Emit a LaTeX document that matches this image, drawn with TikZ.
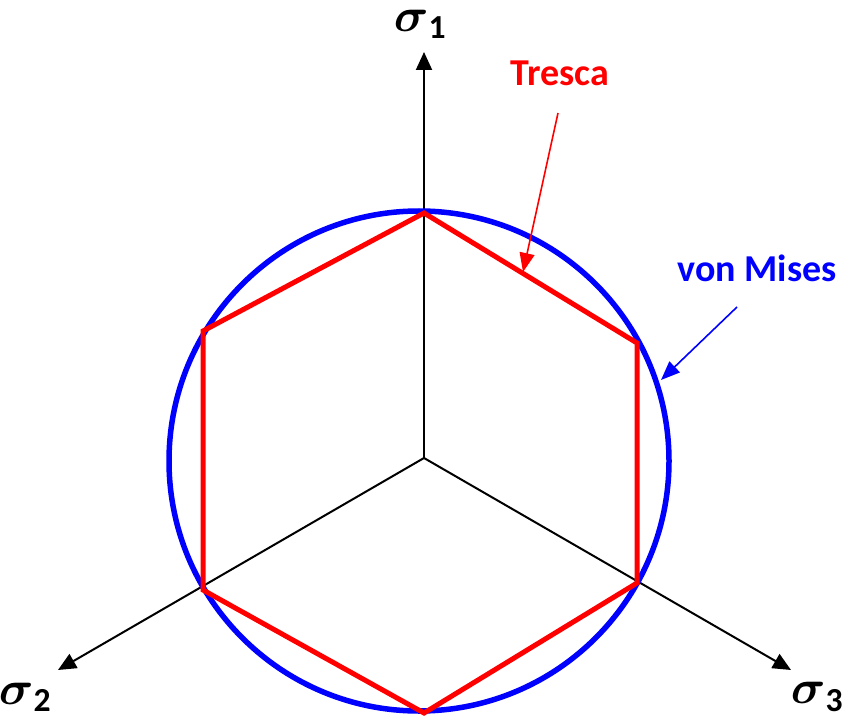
\documentclass[tikz,border=0pt]{standalone}
\usepackage{amsmath, amssymb}
\usepackage{fontspec}
\setmainfont{Carlito}
\usepackage{tikz}
\usetikzlibrary{positioning, calc, arrows.meta}

\tikzset{
  axis/.style={line width=2pt, -{Triangle[length=18pt,width=16pt]}},
  pointer/.style={line width=1.6pt, -{Triangle[length=19pt,width=15pt]}},
  lbl/.style={font=\fontsize{38}{44}\selectfont\bfseries, inner sep=0pt},
  sig/.style={inner sep=0pt},
}
\newcommand{\sig}[1]{\scalebox{4.8}{$\boldsymbol{\sigma}_{\mathbf{#1}}$}}

\begin{document}
\begin{tikzpicture}[x=1pt, y=-1pt]
    \useasboundingbox (0,0) rectangle (843,719);

    % Axes
    \coordinate (O) at (424,458);
    \coordinate (s1) at (424,52);
    \coordinate (s2) at (58,670);
    \coordinate (s3) at (791,670);
    \draw[axis] (O) -- (s1);
    \draw[axis] (O) -- (s2);
    \draw[axis] (O) -- (s3);
    \node[sig] (l1) at (421,24) {\sig{1}};
    \node[sig] (l2) at (26,697) {\sig{2}};
    \node[sig] (l3) at (818,697) {\sig{3}};

    % von Mises circle
    \coordinate (C) at (419,461);
    \draw[blue, line width=5.5pt] (C) circle[radius=250];

    % Tresca hexagon
    \coordinate (h1) at (424,213);
    \coordinate (h2) at (637,343);
    \coordinate (h3) at (637,583);
    \coordinate (h4) at (424,713);
    \coordinate (h5) at (203,590);
    \coordinate (h6) at (203,331);
    \draw[red, line width=5pt] (h1) -- (h2) -- (h3) -- (h4) -- (h5) -- (h6) -- cycle;

    % Labels
    \node[lbl, red] (tresca) at (560,73) {Tresca};
    \coordinate (tA) at (558,113);
    \coordinate (tB) at (523,272);
    \draw[pointer, red] (tA) -- (tB);

    \node[lbl, blue] (mises) at (757,268) {von Mises};
    \coordinate (mA) at (737,307);
    \coordinate (mB) at (661,380);
    \draw[pointer, blue] (mA) -- (mB);
\end{tikzpicture}
\end{document}
